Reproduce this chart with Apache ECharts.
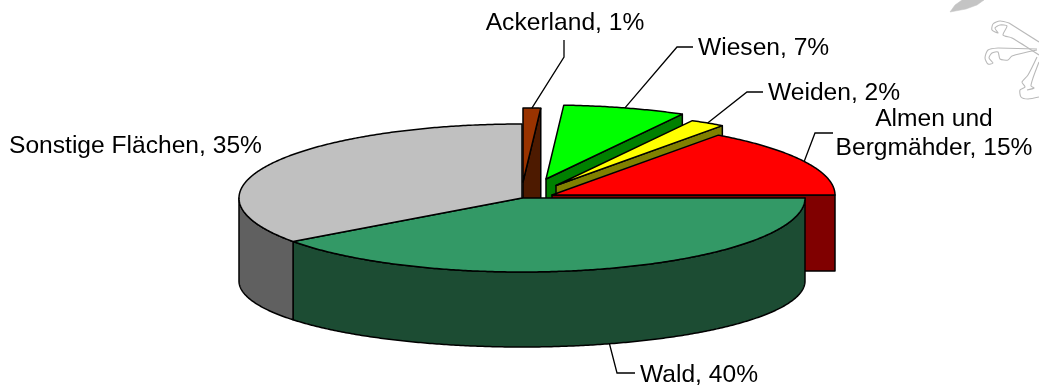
<!DOCTYPE html>
<html>
<head>
<meta charset="utf-8">
<style>html,body{margin:0;padding:0;background:#fff}#chart{width:1039px;height:390px}</style>
<script src="https://cdn.jsdelivr.net/npm/echarts@6/dist/echarts.min.js"></script>
</head>
<body>
<div id="chart"></div>
<script>
// Land use shares, clockwise from twelve o'clock.
const categories = ['Ackerland', 'Wiesen', 'Weiden', 'Almen und\nBergmähder', 'Wald', 'Sonstige Flächen'];
const shares = [1, 7, 2, 15, 40, 35];

const topColors = ['#993300', '#00ff00', '#ffff00', '#ff0000', '#339966', '#c0c0c0'];
const wallColors = ['#4d1a00', '#008000', '#808000', '#800000', '#1c4c33', '#606060'];

// Pulled-out slices keep their tip here; the two large slices sit on the pie centre.
const tips = [[523, 182], [546, 179], [556, 185.5], [552, 195], null, null];
// Label anchor, text alignment and leader elbow for each slice.
const labelLayout = [
  { x: 565, y: 23, align: 'center', elbow: [[564, 57], [564, 40]] },
  { x: 698, y: 48.5, align: 'left', elbow: [[677, 47], [693, 47]] },
  { x: 768, y: 93, align: 'left', elbow: [[747, 92], [763, 92]] },
  { x: 934, y: 133.5, align: 'center', elbow: [[815, 133], [833, 133]] },
  { x: 640, y: 375, align: 'left', elbow: [[617, 373], [635, 373]] },
  { x: 9, y: 146.5, align: 'left', elbow: null }
];

const CX = 522, CY = 198, RX = 283, RY = 74;
const BOTTOM_CY = 281, BOTTOM_RY = 66;
const INK = '#000';
const FONT = '24.6px "Liberation Sans", Arial, sans-serif';
const total = shares.reduce((a, b) => a + b, 0);

const rad = d => d * Math.PI / 180;
const rimTop = d => [CX + RX * Math.sin(rad(d)), CY - RY * Math.cos(rad(d))];
const rimBottom = d => [CX + RX * Math.sin(rad(d)), BOTTOM_CY - BOTTOM_RY * Math.cos(rad(d))];
// The pulled-out slices' walls read deeper toward the back of the pie.
const wallDepth = d => 76 + 16 * Math.cos(rad(d));

function arc(from, to, fn) {
  const pts = [];
  const n = Math.max(2, Math.ceil(Math.abs(to - from) * 2));
  for (let i = 0; i <= n; i++) pts.push(fn(from + (to - from) * i / n));
  return pts;
}

function poly(points, fill, z) {
  return {
    type: 'polygon', z2: z, silent: true,
    shape: { points },
    style: { fill, stroke: INK, lineWidth: 1.5, lineJoin: 'round' }
  };
}

function wedge(i, start, end) {
  const tip = tips[i];
  const kids = [];
  if (tip) {
    // Exploded slice: cut face at its trailing edge, then the top.
    const depth = wallDepth(end);
    const p = [tip[0] + RX * Math.sin(rad(end)), tip[1] - RY * Math.cos(rad(end))];
    kids.push(poly([tip, p, [p[0], p[1] + depth], [tip[0], tip[1] + depth]], wallColors[i], 10 + i * 2));
    const rim = arc(start, end, d => [tip[0] + RX * Math.sin(rad(d)), tip[1] - RY * Math.cos(rad(d))]);
    kids.push(poly([tip].concat(rim), topColors[i], 11 + i * 2));
  } else {
    // Slices on the centre: visible outer wall between the rims, then the top.
    const wallFrom = Math.max(start, 90), wallTo = Math.min(end, 270);
    const upper = arc(wallFrom, wallTo, rimTop);
    const lower = arc(wallFrom, wallTo, rimBottom).reverse();
    kids.push(poly(upper.concat(lower), wallColors[i], 30 + i * 2));
    kids.push(poly([[CX, CY]].concat(arc(start, end, rimTop)), topColors[i], 31 + i * 2));
  }
  return kids;
}

function renderSlice(params, api) {
  const i = params.dataIndex;
  const value = api.value(1);
  let before = 0;
  for (let k = 0; k < i; k++) before += shares[k];
  const start = before / total * 360;
  const end = start + value / total * 360;
  const mid = (start + end) / 2;
  const children = wedge(i, start, end);

  const lay = labelLayout[i];
  if (lay.elbow) {
    const tip = tips[i];
    const from = tip
      ? [tip[0] + RX * Math.sin(rad(mid)), tip[1] - RY * Math.cos(rad(mid))]
      : rimBottom(mid);
    children.push({
      type: 'polyline', z2: 50, silent: true,
      shape: { points: [from].concat(lay.elbow) },
      style: { fill: null, stroke: INK, lineWidth: 1.3 }
    });
  }
  children.push({
    type: 'text', z2: 60, silent: true,
    style: {
      x: lay.x, y: lay.y,
      text: categories[i] + ', ' + value + '%',
      font: FONT, fill: INK, align: lay.align, verticalAlign: 'middle', lineHeight: 29
    }
  });
  return { type: 'group', children };
}

// Faint ornament in the top right corner of the sheet: a blade and a claw.
const clawStrokes = [
  [[1009, 23], [1000, 21], [993, 24], [992, 30], [998, 33], [995, 28], [1000, 25], [1007, 26], [1003, 35], [1012, 38], [1039, 55]],
  [[1009, 23], [1039, 42]],
  [[998, 48], [988, 50], [985, 58], [988, 64], [993, 63], [989, 58], [992, 53], [998, 52], [1000, 59], [1008, 60], [1012, 56], [1037, 50]],
  [[998, 48], [1037, 49]],
  [[1037, 57], [1028, 75], [1022, 82], [1025, 87], [1020, 90], [1021, 97], [1028, 99], [1039, 97]],
  [[1039, 62], [1033, 78], [1031, 86], [1034, 88], [1027, 90]]
];
const ornament = [
  { type: 'polygon', silent: true,
    shape: { points: [[950, 12], [955, 5], [962, 0], [984, 0], [977, 5], [966, 9]] },
    style: { fill: '#c4c4c4', stroke: '#c4c4c4', lineWidth: 0.5 } }
].concat(clawStrokes.map(points => ({
  type: 'polyline', silent: true,
  shape: { points, smooth: 0.25 },
  style: { fill: null, stroke: '#b9b9b9', lineWidth: 1.1 }
})));

const chart = echarts.init(document.getElementById('chart'), null, { renderer: 'canvas' });
chart.setOption({
  animation: false,
  backgroundColor: '#fff',
  graphic: ornament,
  series: [{
    type: 'custom',
    coordinateSystem: 'none',
    renderItem: renderSlice,
    data: shares.map((v, i) => [i, v])
  }]
});
</script>
</body>
</html>
